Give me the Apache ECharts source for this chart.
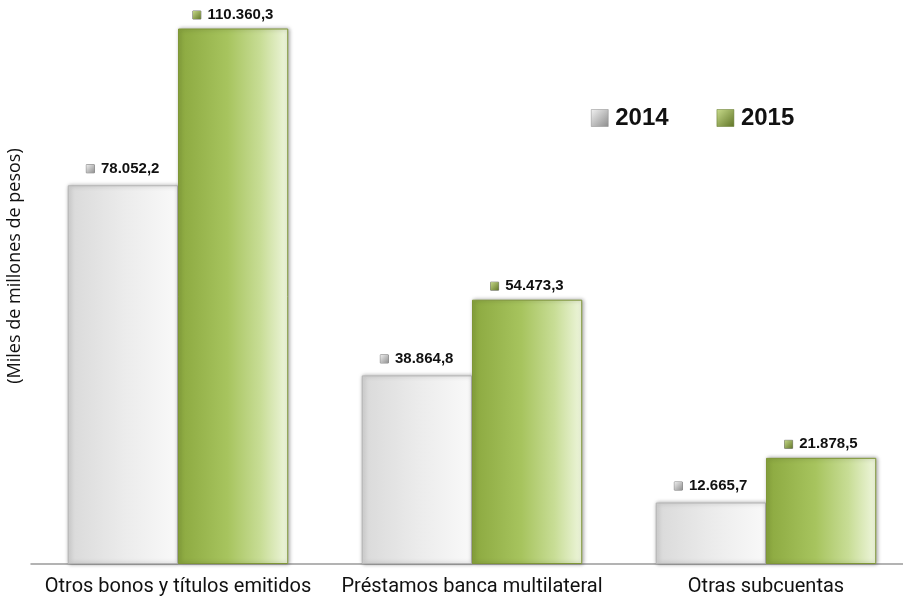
<!DOCTYPE html>
<html>
<head>
<meta charset="utf-8">
<script src="https://cdn.jsdelivr.net/npm/echarts@6/dist/echarts.min.js"></script>
<style>
  html, body { margin: 0; padding: 0; background: #fff; }
  #chart { width: 903px; height: 605px; }
</style>
</head>
<body>
<div id="chart"></div>
<script>
const categories = ['Otros bonos y títulos emitidos', 'Préstamos banca multilateral', 'Otras subcuentas'];
const years = ['2014', '2015'];
const values2014 = [78052.2, 38864.8, 12665.7];
const values2015 = [110360.3, 54473.3, 21878.5];

// 110360.3 -> "110.360,3"
function fmt(v) {
  const parts = v.toFixed(1).split('.');
  return parts[0].replace(/\B(?=(\d{3})+(?!\d))/g, '.') + ',' + parts[1];
}

const grayFill = new echarts.graphic.LinearGradient(0, 0, 1, 0, [
  { offset: 0, color: '#d9d9d9' },
  { offset: 0.5, color: '#ebebeb' },
  { offset: 1, color: '#f9f9f9' }
]);
const greenFill = new echarts.graphic.LinearGradient(0, 0, 1, 0, [
  { offset: 0, color: '#8ba83f' },
  { offset: 0.45, color: '#a7c45e' },
  { offset: 0.75, color: '#c8dd96' },
  { offset: 1, color: '#eff6de' }
]);
const grayIcon = new echarts.graphic.LinearGradient(0, 0, 1, 1, [
  { offset: 0, color: '#f2f2f2' }, { offset: 1, color: '#8c8c8c' }
]);
const greenIcon = new echarts.graphic.LinearGradient(0, 0, 1, 1, [
  { offset: 0, color: '#c9dc8c' }, { offset: 1, color: '#5f7426' }
]);

function labelFor(icon, dist) {
  return {
    show: true,
    position: 'top',
    distance: dist,
    formatter: p => '{i|}  {t|' + fmt(p.value) + '}',
    rich: {
      i: { width: 8, height: 8, backgroundColor: icon, borderColor: '#777', borderWidth: 0.5 },
      t: { fontFamily: 'Liberation Sans, Arial, sans-serif', fontWeight: 'bold', fontSize: 15, color: '#111' }
    }
  };
}

const chart = echarts.init(document.getElementById('chart'));
chart.setOption({
  animation: false,
  grid: { left: 31, top: 6, width: 882, bottom: 41, outerBoundsMode: 'none' },
  legend: {
    data: [
      { name: '2014', itemStyle: { color: grayIcon, borderColor: '#888', borderWidth: 0.5 } },
      { name: '2015', itemStyle: { color: greenIcon, borderColor: '#5f7426', borderWidth: 0.5 } }
    ],
    left: 586,
    top: 101,
    icon: 'rect',
    itemWidth: 17,
    itemHeight: 17,
    itemGap: 48,
    textStyle: { fontFamily: 'Liberation Sans, Arial, sans-serif', fontWeight: 'bold', fontSize: 24, color: '#111', padding: [0, 0, 0, 2] }
  },
  xAxis: {
    type: 'category',
    data: categories,
    axisLine: { lineStyle: { color: '#9a9a9a', width: 1.5 } },
    axisTick: { show: false },
    axisLabel: {
      interval: 0,
      hideOverlap: false,
      margin: 13,
      fontFamily: 'Roboto, sans-serif',
      fontSize: 20,
      color: '#111'
    }
  },
  yAxis: {
    type: 'value',
    min: 0,
    max: 115000,
    axisLine: { show: false },
    axisTick: { show: false },
    axisLabel: { show: false },
    splitLine: { show: false },
    name: '(Miles de millones de pesos)',
    nameLocation: 'middle',
    nameGap: 7,
    nameTextStyle: {
      fontFamily: "'Open Sans', 'Liberation Sans', sans-serif",
      fontSize: 18,
      color: '#111',
      padding: [0, 0, 0, 38]
    }
  },
  series: [
    {
      name: years[0],
      type: 'bar',
      data: values2014,
      barGap: '0%',
      barCategoryGap: '25%',
      itemStyle: {
        color: grayFill,
        borderColor: '#b5b5b5',
        borderWidth: 1,
        shadowColor: 'rgba(0,0,0,0.35)',
        shadowBlur: 4,
        shadowOffsetX: 1
      },
      label: labelFor(grayIcon, 9)
    },
    {
      name: years[1],
      type: 'bar',
      data: values2015,
      itemStyle: {
        color: greenFill,
        borderColor: '#7f9637',
        borderWidth: 1,
        shadowColor: 'rgba(0,0,0,0.35)',
        shadowBlur: 4,
        shadowOffsetX: 1
      },
      label: labelFor(greenIcon, 6)
    }
  ]
});
</script>
</body>
</html>
